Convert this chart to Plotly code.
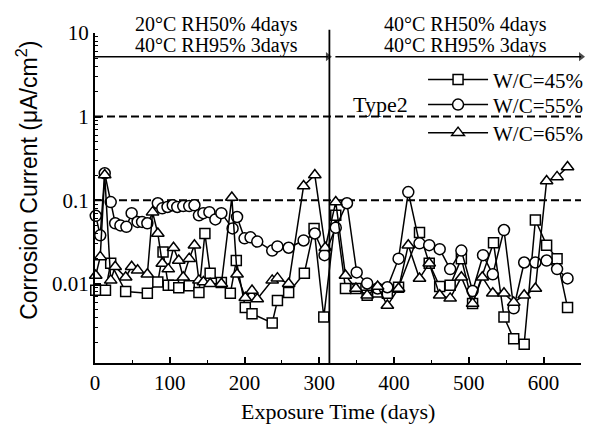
import numpy as np
import plotly.graph_objects as go

# ---------------- data ----------------
days_45 = [1, 14, 21, 41, 70, 84, 91, 98, 105, 112, 126, 139, 147, 154, 169, 181, 189, 201, 210, 237,
           244, 259, 280, 293, 306, 322, 335, 349, 364, 378, 391, 406, 434, 447, 461, 475, 490, 505,
           533, 547, 560, 574, 589, 604, 618, 632]
vals_45 = [0.0084, 0.0084, 0.0176, 0.0081, 0.0077, 0.0105, 0.024, 0.0096, 0.0096, 0.009, 0.0095, 0.0079,
           0.04, 0.0134, 0.0104, 0.0077, 0.019, 0.0052, 0.0044, 0.0034, 0.0063, 0.0079, 0.0134, 0.046,
           0.0040, 0.066, 0.0088, 0.0088, 0.0073, 0.008, 0.0077, 0.0091, 0.041, 0.0176, 0.0093, 0.0096,
           0.02, 0.0058, 0.031, 0.004, 0.0022, 0.0019, 0.058, 0.029, 0.02, 0.0052]

days_55 = [1, 7, 13, 21, 27, 34, 42, 49, 57, 63, 70, 84, 90, 97, 104, 110, 118, 126, 133, 139, 145, 153,
           161, 169, 184, 190, 200, 208, 217, 237, 244, 259, 279, 294, 307, 322, 337, 350, 364, 378, 391,
           406, 419, 434, 447, 461, 475, 490, 505, 519, 532, 547, 560, 574, 589, 604, 618, 632]
vals_55 = [0.065, 0.038, 0.21, 0.095, 0.053, 0.05, 0.048, 0.07, 0.055, 0.055, 0.053, 0.092, 0.08, 0.083,
           0.087, 0.083, 0.085, 0.085, 0.087, 0.066, 0.07, 0.072, 0.059, 0.07, 0.046, 0.063, 0.035, 0.036,
           0.032, 0.025, 0.028, 0.027, 0.033, 0.04, 0.022, 0.047, 0.092, 0.0137, 0.0101, 0.0088, 0.0091,
           0.02, 0.125, 0.0305, 0.029, 0.026, 0.015, 0.025, 0.0082, 0.022, 0.013, 0.044, 0.0051, 0.018,
           0.018, 0.019, 0.015, 0.0116]

days_65 = [1, 7, 13, 21, 27, 41, 49, 57, 70, 77, 84, 90, 98, 105, 112, 118, 126, 133, 139, 145, 154, 169,
           183, 190, 201, 210, 217, 237, 244, 259, 279, 294, 308, 322, 335, 349, 364, 378, 391, 406, 419,
           434, 447, 461, 475, 490, 505, 518, 532, 547, 560, 574, 589, 604, 618, 632]
vals_65 = [0.0126, 0.021, 0.2, 0.011, 0.016, 0.012, 0.016, 0.0145, 0.013, 0.072, 0.040, 0.0175, 0.015,
           0.027, 0.019, 0.012, 0.02, 0.029, 0.011, 0.0105, 0.010, 0.010, 0.108, 0.013, 0.0068, 0.0083,
           0.0066, 0.011, 0.0117, 0.010, 0.148, 0.2, 0.027, 0.095, 0.0126, 0.0088, 0.0073, 0.0093, 0.0055,
           0.0088, 0.029, 0.0116, 0.0176, 0.0073, 0.0067, 0.012, 0.0058, 0.012, 0.0077, 0.0077, 0.006,
           0.0073, 0.0088, 0.17, 0.19, 0.25]

series_names = ["W/C=45%", "W/C=55%", "W/C=65%"]
thresholds = [1, 0.1]
period_split_day = 313.5
band_level = 5.2
x_range = [0, 650]
y_range = [0.00113, 10]
y_tick_vals = [0.01, 0.1, 1, 10]
y_tick_text = ["0.01", "0.1", "1", "10"]
period_labels = [("20°C RH50% 4days", "40°C RH95% 3days", 163),
                 ("40°C RH50% 4days", "40°C RH95% 3days", 495)]
group_label = "Type2"
x_title = "Exposure Time (days)"
y_title = "Corrosion Current (μA/cm<sup>2</sup>)"

# ---------------- figure ----------------
SERIF = "Liberation Serif"
fig = go.Figure()

for t in thresholds:
    fig.add_trace(go.Scatter(x=x_range, y=[t, t], mode="lines", showlegend=False, hoverinfo="skip",
                             line=dict(color="black", width=2, dash="8px,4px")))

# condition band lines with arrowheads
band_segments = [(x_range[0], period_split_day - 2), (period_split_day + 8, x_range[1])]
for x0, x1 in band_segments:
    fig.add_trace(go.Scatter(x=[x0, x1], y=[band_level, band_level], mode="lines+markers",
                             showlegend=False, hoverinfo="skip", cliponaxis=False,
                             line=dict(color="black", width=1.6),
                             marker=dict(symbol="triangle-right", size=[0, 8], color="black",
                                         line=dict(width=0))))

symbols = ["square", "circle", "triangle-up"]
sizes = [10, 11, 11]
legend_ids = ["legend", "legend2", "legend3"]
for name, d, v, sym, sz, lg in zip(series_names, [days_45, days_55, days_65],
                                   [vals_45, vals_55, vals_65], symbols, sizes, legend_ids):
    fig.add_trace(go.Scatter(
        x=d, y=v, mode="lines+markers", name=name, cliponaxis=False, legend=lg,
        line=dict(color="black", width=1.5),
        marker=dict(symbol=sym, size=sz, color="white", line=dict(color="black", width=1.5))))

# vertical split line
fig.add_shape(type="line", xref="x", yref="paper", x0=period_split_day, x1=period_split_day,
              y0=0, y1=1.01, line=dict(color="black", width=1.8))

for l1, l2, xc in period_labels:
    fig.add_annotation(x=xc, y=1.027, xref="x", yref="paper", text=l1, showarrow=False,
                       font=dict(family=SERIF, size=20, color="black"), yanchor="middle")
    fig.add_annotation(x=xc, y=0.963, xref="x", yref="paper", text=l2, showarrow=False,
                       font=dict(family=SERIF, size=20, color="black"), yanchor="middle")

fig.add_annotation(x=0.588, y=0.782, xref="paper", yref="paper", text=group_label, showarrow=False,
                   font=dict(family=SERIF, size=22, color="black"), yanchor="middle")

# axis titles (placed as annotations to match the reference position)
fig.add_annotation(x=0.5, y=-0.148, xref="paper", yref="paper", text=x_title,
                   showarrow=False, font=dict(family=SERIF, size=22, color="black"), yanchor="middle")
fig.add_annotation(x=-0.14, y=0.555, xref="paper", yref="paper", text=y_title, textangle=-90,
                   showarrow=False, font=dict(family="Liberation Sans", size=23, color="black"),
                   xanchor="center", yanchor="middle")

minor_y = [m * 10.0 ** e for e in range(-3, 1) for m in range(2, 10)]

legend_common = dict(x=0.675, xanchor="left", yanchor="middle", bgcolor="rgba(0,0,0,0)",
                     font=dict(family=SERIF, size=21, color="black"), itemwidth=60)

fig.update_layout(
    width=604, height=426, margin=dict(l=95, r=23, t=33, b=63, autoexpand=False),
    paper_bgcolor="white", plot_bgcolor="white",
    font=dict(family=SERIF, color="black"),
    legend=dict(y=0.858, **legend_common),
    legend2=dict(y=0.782, **legend_common),
    legend3=dict(y=0.697, **legend_common),
    xaxis=dict(range=x_range, tick0=0, dtick=100, ticks="inside", ticklen=6, tickwidth=1.5,
               tickcolor="black", showline=True, linewidth=2, linecolor="black", showgrid=False,
               zeroline=False, tickfont=dict(family=SERIF, size=21, color="black"),
               minor=dict(dtick=50, ticks="inside", ticklen=3, tickwidth=1.2, tickcolor="black",
                          showgrid=False)),
    yaxis=dict(type="log", range=[np.log10(y_range[0]), np.log10(y_range[1])],
               tickvals=y_tick_vals, ticktext=y_tick_text, ticks="inside", ticklen=6, tickwidth=1.5,
               tickcolor="black", showline=True, linewidth=2, linecolor="black", showgrid=False,
               zeroline=False, tickfont=dict(family=SERIF, size=21, color="black"),
               minor=dict(tickvals=minor_y, ticks="inside", ticklen=3, tickwidth=1.2,
                          tickcolor="black", showgrid=False)),
)

fig.write_html("out.html")
